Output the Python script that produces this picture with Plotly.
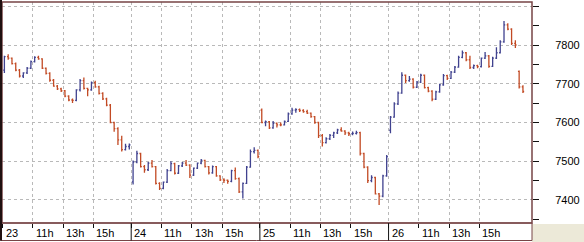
import plotly.graph_objects as go

# ---- data (15-minute bars, session 09:00-17:30) ----
day_labels = ["23", "24", "25", "26"]
hour_labels = ["11h", "13h", "15h"]
hour_values = [11, 13, 15]
session_start = 9.0
session_len = 8.5
bar_hours = 0.25

# day 23
o23 = [7735,7770,7766,7752,7735,7720,7728,7740,7757,7768,7764,7740,7727,7709,7694,7687,7682,7668,7658,7657,7684,7708,7688,7684,7703,7692,7675,7661,7645,7600,7584,7555,7530,7538]
h23 = [7772,7776,7768,7755,7738,7730,7743,7760,7771,7772,7766,7742,7730,7712,7697,7690,7684,7670,7662,7686,7712,7716,7690,7706,7708,7695,7678,7664,7648,7602,7588,7566,7545,7546]
l23 = [7728,7762,7750,7732,7716,7715,7725,7738,7755,7762,7738,7724,7705,7692,7684,7679,7665,7655,7650,7655,7680,7685,7668,7682,7690,7672,7658,7642,7598,7576,7542,7525,7528,7530]
c23 = [7770,7766,7752,7735,7720,7728,7740,7757,7768,7764,7740,7727,7709,7694,7687,7682,7668,7658,7657,7684,7708,7688,7684,7703,7692,7675,7661,7645,7600,7584,7555,7530,7538,7542]
# day 24
o24 = [7447,7498,7520,7486,7478,7495,7486,7443,7430,7446,7476,7494,7469,7488,7495,7490,7464,7482,7495,7502,7486,7470,7486,7462,7452,7451,7448,7476,7455,7421,7443,7485,7525,7528]
h24 = [7502,7527,7522,7490,7498,7503,7488,7446,7448,7480,7500,7496,7490,7498,7503,7492,7484,7497,7506,7504,7488,7489,7488,7464,7456,7453,7478,7484,7458,7445,7488,7530,7536,7530]
l24 = [7440,7495,7484,7470,7475,7484,7440,7426,7428,7444,7474,7466,7467,7485,7488,7457,7462,7480,7492,7484,7466,7468,7460,7449,7444,7442,7446,7452,7418,7404,7441,7483,7520,7508]
c24 = [7498,7520,7486,7478,7495,7486,7443,7430,7446,7476,7494,7469,7488,7495,7490,7464,7482,7495,7502,7486,7470,7486,7462,7452,7451,7448,7476,7455,7421,7443,7485,7525,7528,7512]
# day 25
o25 = [7632,7600,7602,7586,7598,7594,7594,7603,7622,7632,7633,7631,7628,7624,7615,7600,7566,7548,7558,7567,7573,7581,7578,7573,7571,7572,7574,7520,7485,7450,7458,7416,7410,7462]
h25 = [7636,7605,7604,7604,7600,7600,7605,7626,7638,7637,7636,7634,7633,7626,7617,7602,7570,7562,7570,7576,7584,7588,7580,7576,7577,7579,7576,7522,7487,7464,7460,7418,7465,7516]
l25 = [7598,7590,7583,7584,7587,7590,7592,7601,7620,7625,7627,7625,7622,7612,7597,7560,7538,7546,7555,7560,7570,7576,7568,7565,7567,7569,7515,7482,7444,7446,7414,7387,7407,7460]
c25 = [7600,7602,7586,7598,7594,7594,7603,7622,7632,7633,7631,7628,7624,7615,7600,7566,7548,7558,7567,7573,7581,7578,7573,7571,7572,7574,7520,7485,7450,7458,7416,7410,7462,7512]
# day 26
o26 = [7580,7614,7648,7676,7722,7708,7712,7691,7704,7722,7690,7681,7660,7679,7697,7721,7714,7730,7743,7768,7780,7762,7742,7747,7744,7766,7772,7745,7766,7780,7808,7852,7841,7804]
h26 = [7617,7652,7680,7730,7724,7720,7714,7707,7726,7724,7692,7683,7682,7700,7725,7723,7733,7746,7772,7786,7782,7772,7750,7749,7768,7782,7774,7770,7794,7812,7862,7856,7843,7812]
l26 = [7572,7612,7645,7674,7702,7705,7688,7689,7702,7688,7678,7655,7658,7677,7695,7710,7712,7728,7741,7766,7758,7738,7738,7740,7742,7764,7741,7743,7764,7778,7806,7838,7800,7792]
c26 = [7614,7648,7676,7722,7708,7712,7691,7704,7722,7690,7681,7660,7679,7697,7721,7714,7730,7743,7768,7780,7762,7742,7747,7744,7766,7772,7745,7766,7780,7808,7852,7841,7804,7800]
# day 27 (first bars only)
o27 = [7732, 7692]
h27 = [7734, 7696]
l27 = [7688, 7676]
c27 = [7692, 7680]

price_ticks = [7400, 7500, 7600, 7700, 7800, 7900]
price_minor = [7350, 7450, 7550, 7650, 7750, 7850]

days = [(o23, h23, l23, c23), (o24, h24, l24, c24), (o25, h25, l25, c25),
        (o26, h26, l26, c26), (o27, h27, l27, c27)]

X, O, H, L, C = [], [], [], [], []
for d, (o, h, l, c) in enumerate(days):
    assert len(o) == len(h) == len(l) == len(c)
    for i in range(len(o)):
        X.append(d * session_len + (i + 0.5) * bar_hours)
        O.append(o[i]); H.append(h[i]); L.append(l[i]); C.append(c[i])

day_pos = [d * session_len for d in range(len(day_labels))]
hour_pos = [d * session_len + (hv - session_start) for d in range(len(day_labels)) for hv in hour_values]
hour_txt = [hl for d in range(len(day_labels)) for hl in hour_labels]
all_ticks = sorted(day_pos + hour_pos)

FONT = "Liberation Sans, Arial, sans-serif"
FRAME = "#774446"
GRID = "#b9b9b9"

fig = go.Figure(go.Ohlc(
    x=X, open=O, high=H, low=L, close=C,
    increasing=dict(line=dict(color="#40428f", width=1.3)),
    decreasing=dict(line=dict(color="#c24a24", width=1.3)),
    tickwidth=0.32, hoverinfo="skip",
))

W, Hh = 584, 242
ml, mr, mt, mb = 2, 52, 2, 19
pw, ph = W - ml - mr, Hh - mt - mb


def px(xp):
    return (xp - ml) / pw


def py(yp):
    return (Hh - mb - yp) / ph


shapes = []
# beige corner
shapes.append(dict(type="rect", xref="paper", yref="paper", x0=1, x1=px(W + 2),
                   y0=py(Hh - mb + 1), y1=py(Hh + 2), fillcolor="#ece9d8", line=dict(width=0), layer="below"))
# x label strip box
shapes.append(dict(type="rect", xref="paper", yref="paper", x0=px(0.5), x1=1,
                   y0=0, y1=py(Hh - 1.5), line=dict(color=FRAME, width=1)))
# plot frame
shapes.append(dict(type="rect", xref="paper", yref="paper", x0=0, x1=1, y0=0, y1=1,
                   line=dict(color=FRAME, width=1.5)))
shapes.append(dict(type="line", xref="paper", yref="paper", x0=px(1), x1=px(1), y0=py(Hh - 1.5), y1=py(0),
                   line=dict(color="#201010", width=2)))
# day separators in the strip
for dp in day_pos[1:]:
    shapes.append(dict(type="line", xref="x", yref="paper", x0=dp, x1=dp, y0=0, y1=py(Hh - 1.5),
                       line=dict(color="#101010", width=1)))

annotations = []
for dp, dl in zip(day_pos, day_labels):
    annotations.append(dict(x=dp, xref="x", y=py(232.5), yref="paper", text=dl, showarrow=False,
                            xanchor="left", yanchor="middle", xshift=1,
                            font=dict(family=FONT, size=11, color="#000000")))
for hp, hl in zip(hour_pos, hour_txt):
    annotations.append(dict(x=hp, xref="x", y=py(232.5), yref="paper", text=hl, showarrow=False,
                            xanchor="left", yanchor="middle", xshift=1,
                            font=dict(family=FONT, size=11, color="#000000")))

x_left = -0.5 / 15.14
x_right = x_left + pw / 15.14

fig.update_layout(
    width=W, height=Hh,
    margin=dict(l=ml, r=mr, t=mt, b=mb, pad=0),
    paper_bgcolor="#ffffff", plot_bgcolor="#ffffff",
    showlegend=False,
    font=dict(family=FONT, size=11, color="#000000"),
    shapes=shapes, annotations=annotations,
    xaxis=dict(range=[x_left, x_right], rangeslider=dict(visible=False),
               tickvals=all_ticks, showticklabels=False,
               ticks="outside", ticklen=4, tickcolor="#101010", tickwidth=1,
               showgrid=True, gridcolor=GRID, griddash="3px,3px", gridwidth=1,
               zeroline=False, showline=False),
    yaxis=dict(range=[7340.6, 7911.0], side="right",
               tickvals=price_ticks, ticktext=[str(v) if v < 7900 else "" for v in price_ticks],
               ticks="outside", ticklen=6, tickcolor="#101010", tickwidth=1,
               ticklabelstandoff=14,
               tickfont=dict(family=FONT, size=11, color="#000000"),
               showgrid=True, gridcolor=GRID, griddash="3px,3px", gridwidth=1,
               minor=dict(tickvals=price_minor, ticks="outside", ticklen=6, tickcolor="#101010",
                          tickwidth=1, showgrid=False),
               zeroline=False, showline=False),
)

fig.write_html("out.html", config={"displayModeBar": False})
